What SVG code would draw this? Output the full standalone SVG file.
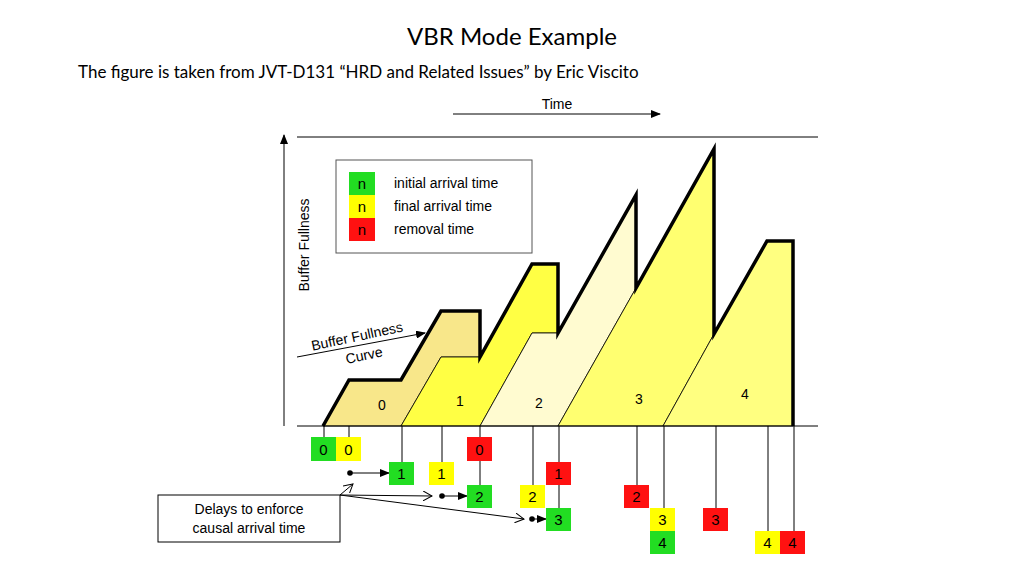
<svg xmlns="http://www.w3.org/2000/svg" width="1024" height="576" viewBox="0 0 1024 576">
<defs>
<marker id="ah" markerWidth="10" markerHeight="8" refX="9" refY="4" orient="auto" markerUnits="userSpaceOnUse"><path d="M0,0 L10,4 L0,8 Z" fill="#000"/></marker>
<marker id="oa" markerWidth="10" markerHeight="10" refX="9" refY="5" orient="auto" markerUnits="userSpaceOnUse"><path d="M0,0 L9,5 L0,10" fill="none" stroke="#000" stroke-width="1"/></marker>
</defs>
<style>
text{font-family:"Liberation Sans",Arial,sans-serif;fill:#000}
.t{font-family:Lato,"Open Sans",sans-serif}
.g{fill:#22dd22}.y{fill:#ffff00}.r{fill:#ff1111}
.bl{font-size:15px;text-anchor:middle}
.ln{stroke:#000;stroke-width:1;fill:none}
</style>
<rect width="1024" height="576" fill="#fff"/>
<text class="t" x="512" y="45" font-size="24" text-anchor="middle">VBR Mode Example</text>
<text class="t" x="78" y="78" font-size="17">The figure is taken from JVT-D131 “HRD and Related Issues” by Eric Viscito</text>
<g id="axes">
<text x="557" y="109" font-size="14" text-anchor="middle">Time</text>
<line x1="453" y1="114" x2="660" y2="114" class="ln" marker-end="url(#ah)"/>
<line x1="284" y1="426" x2="284" y2="135" class="ln" marker-end="url(#ah)"/>
<line x1="297" y1="137" x2="818" y2="137" class="ln"/>
<text transform="translate(309,245) rotate(-90)" font-size="14" text-anchor="middle">Buffer Fullness</text>
</g>
<g id="frames" stroke="#000" stroke-width="0.8">
<polygon points="323,426 349,380 401,380 441,311 480,311 480,357 441,357 401,426" fill="#f8e78a"/>
<polygon points="401,426 441,357 480,357 532,264 558,264 558,333 532,333 480,426" fill="#ffff44"/>
<polygon points="480,426 532,333 558,333 636,195 636,288 558,426" fill="#fffbd0"/>
<polygon points="558,426 636,288 714,149 714,334 663,426" fill="#ffff70"/>
<polygon points="663,426 714,334 767,241 793,241 793,426" fill="#ffff80"/>
</g>
<polyline points="323,426 349,380 401,380 441,311 480,311 480,357 532,264 558,264 558,333 636,195 636,288 714,149 714,334 767,241 793,241 793,426" fill="none" stroke="#000" stroke-width="3.5" stroke-linejoin="miter"/>
<line x1="297" y1="426" x2="818" y2="426" class="ln"/>
<g id="frame-labels" font-size="14">
<text x="382" y="410" text-anchor="middle">0</text>
<text x="460" y="406" text-anchor="middle">1</text>
<text x="539" y="408" text-anchor="middle">2</text>
<text x="639" y="404" text-anchor="middle">3</text>
<text x="745" y="399" text-anchor="middle">4</text>
</g>
<g id="legend">
<rect x="336" y="160" width="196" height="93" fill="#fff" stroke="#555" stroke-width="1"/>
<rect x="349" y="172" width="26" height="23" class="g"/>
<rect x="349" y="195" width="26" height="23" class="y"/>
<rect x="349" y="218" width="26" height="23" class="r"/>
<text x="362" y="189" class="bl">n</text><text x="362" y="212" class="bl">n</text><text x="362" y="235" class="bl">n</text>
<text x="394" y="188" font-size="14">initial arrival time</text>
<text x="394" y="211" font-size="14">final arrival time</text>
<text x="394" y="234" font-size="14">removal time</text>
</g>
<g id="curve-label">
<line x1="297" y1="357" x2="425" y2="333" class="ln" marker-end="url(#ah)"/>
<text transform="translate(358,341) rotate(-12)" font-size="14" text-anchor="middle">Buffer Fullness</text>
<text transform="translate(365,360) rotate(-12)" font-size="14" text-anchor="middle">Curve</text>
</g>
<g id="connectors" stroke="#000" stroke-width="1" fill="none">
<line x1="324" y1="426" x2="324" y2="437"/><line x1="349" y1="426" x2="349" y2="437"/>
<line x1="402" y1="426" x2="402" y2="462"/><line x1="442" y1="426" x2="442" y2="462"/>
<line x1="480" y1="426" x2="480" y2="485"/><line x1="533" y1="426" x2="533" y2="485"/>
<line x1="559" y1="426" x2="559" y2="508"/><line x1="637" y1="426" x2="637" y2="485"/>
<line x1="664" y1="426" x2="664" y2="508"/><line x1="716" y1="426" x2="716" y2="508"/>
<line x1="768" y1="426" x2="768" y2="531"/><line x1="794" y1="426" x2="794" y2="531"/>
<line x1="350" y1="473" x2="389" y2="473" marker-end="url(#ah)"/>
<line x1="442" y1="496" x2="467" y2="496" marker-end="url(#ah)"/>
<line x1="532" y1="519" x2="546" y2="519" marker-end="url(#ah)"/>
<line x1="340" y1="495" x2="353" y2="484" marker-end="url(#oa)"/>
<line x1="340" y1="495" x2="432" y2="496" marker-end="url(#oa)"/>
<line x1="340" y1="495" x2="524" y2="519" marker-end="url(#oa)"/>
</g>
<g id="dots" fill="#000"><circle cx="350" cy="473" r="2.8"/><circle cx="442" cy="496" r="2.8"/><circle cx="532" cy="519" r="2.8"/></g>
<g id="boxes">
<rect x="311" y="437" width="25" height="24" class="g"/><text x="323.5" y="455" class="bl">0</text>
<rect x="336" y="437" width="25" height="24" class="y"/><text x="348.5" y="455" class="bl">0</text>
<rect x="467" y="437" width="25" height="24" class="r"/><text x="479.5" y="455" class="bl">0</text>
<rect x="389" y="462" width="25" height="23" class="g"/><text x="401.5" y="479" class="bl">1</text>
<rect x="429" y="462" width="25" height="23" class="y"/><text x="441.5" y="479" class="bl">1</text>
<rect x="546" y="462" width="25" height="23" class="r"/><text x="558.5" y="479" class="bl">1</text>
<rect x="467" y="485" width="25" height="23" class="g"/><text x="479.5" y="502" class="bl">2</text>
<rect x="520" y="485" width="25" height="23" class="y"/><text x="532.5" y="502" class="bl">2</text>
<rect x="624" y="485" width="25" height="23" class="r"/><text x="636.5" y="502" class="bl">2</text>
<rect x="546" y="508" width="25" height="23" class="g"/><text x="558.5" y="525" class="bl">3</text>
<rect x="650" y="508" width="25" height="23" class="y"/><text x="662.5" y="525" class="bl">3</text>
<rect x="703" y="508" width="25" height="23" class="r"/><text x="715.5" y="525" class="bl">3</text>
<rect x="650" y="531" width="25" height="23" class="g"/><text x="662.5" y="548" class="bl">4</text>
<rect x="755" y="531" width="25" height="23" class="y"/><text x="767.5" y="548" class="bl">4</text>
<rect x="780" y="531" width="25" height="23" class="r"/><text x="792.5" y="548" class="bl">4</text>
</g>
<g id="callout">
<rect x="158" y="495" width="182" height="47" fill="#fff" stroke="#000" stroke-width="1"/>
<text x="249" y="514" font-size="14" text-anchor="middle">Delays to enforce</text>
<text x="249" y="533" font-size="14" text-anchor="middle">causal arrival time</text>
</g>
</svg>
